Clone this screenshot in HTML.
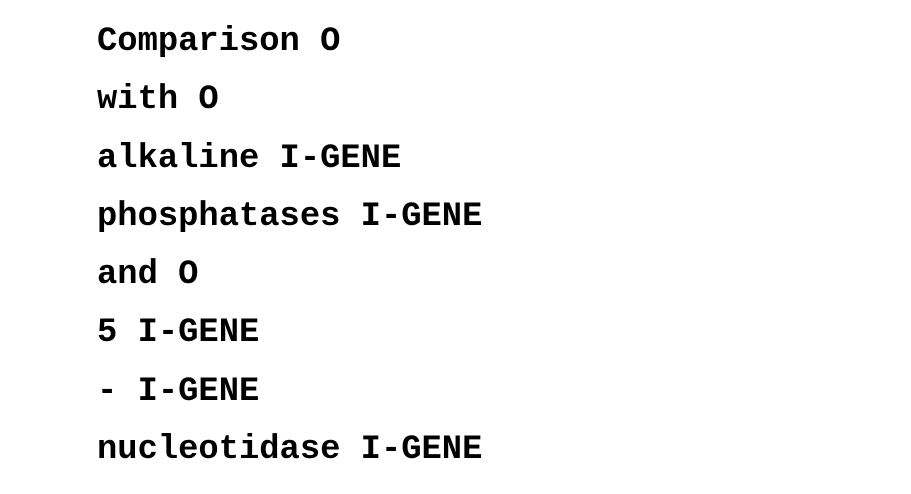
<!DOCTYPE html>
<html><head><meta charset="utf-8"><style>
html,body{margin:0;padding:0;background:#fff;width:911px;height:494px;overflow:hidden}
.t{position:absolute;left:97px;top:13px;font-family:"Liberation Mono",monospace;font-weight:bold;font-size:33.8px;line-height:58.3px;color:#000;white-space:pre}
</style></head><body>
<div class="t">Comparison O
with O
alkaline I-GENE
phosphatases I-GENE
and O
5 I-GENE
- I-GENE
nucleotidase I-GENE</div>
</body></html>
